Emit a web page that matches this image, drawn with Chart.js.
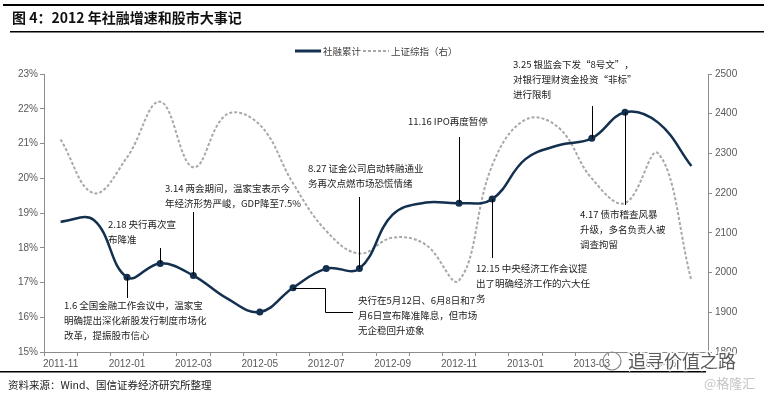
<!DOCTYPE html>
<html>
<head>
<meta charset="utf-8">
<script src="https://cdn.jsdelivr.net/npm/chart.js@4.4.0/dist/chart.umd.min.js"></script>
<style>
    html, body { margin: 0; padding: 0; background: #fff; }
    #wrap { position: relative; width: 764px; height: 396px; }
</style>
</head>
<body>
<div id="wrap"><canvas id="chart" width="764" height="396"></canvas></div>
<script>
// --- data ---
const months = ['2011-11', '2011-12', '2012-01', '2012-02', '2012-03', '2012-04', '2012-05',
    '2012-06', '2012-07', '2012-08', '2012-09', '2012-10', '2012-11', '2012-12',
    '2013-01', '2013-02', '2013-03', '2013-04', '2013-05', '2013-06'];

// 社融累计 growth (%), left axis
const tsfGrowth = [18.75, 18.8, 17.15, 17.55, 17.2, 16.55, 16.15, 16.85, 17.4, 17.4,
    18.95, 19.3, 19.28, 19.4, 20.55, 20.95, 21.15, 21.9, 21.6, 20.35];

// 上证综指, right axis
const shIndex = [2335, 2200, 2290, 2430, 2265, 2398, 2372, 2225, 2105, 2048,
    2088, 2070, 1980, 2270, 2385, 2365, 2237, 2175, 2300, 1980];

// months that carry a marker on the 社融 line
const markedIdx = [2, 3, 4, 6, 7, 8, 9, 12, 13, 16, 17];

const leftTicks = [15, 16, 17, 18, 19, 20, 21, 22, 23];
const rightTicks = [1800, 1900, 2000, 2100, 2200, 2300, 2400, 2500];

// event notes: month index + text lines
const events = [
    { idx: 2, lines: ['1.6 全国金融工作会议中，温家宝', '明确提出深化新股发行制度市场化', '改革，提振股市信心'] },
    { idx: 3, lines: ['2.18 央行再次宣', '布降准'] },
    { idx: 4, lines: ['3.14 两会期间，温家宝表示今', '年经济形势严峻，GDP降至7.5%'] },
    { idx: 7, lines: ['央行在5月12日、6月8日和7', '月6日宣布降准降息，但市场', '无企稳回升迹象'] },
    { idx: 9, lines: ['8.27 证金公司启动转融通业', '务再次点燃市场恐慌情绪'] },
    { idx: 12, lines: ['11.16 IPO再度暂停'] },
    { idx: 13, lines: ['12.15 中央经济工作会议提', '出了明确经济工作的六大任', '务'] },
    { idx: 16, lines: ['3.25 银监会下发“8号文”，', '对银行理财资金投资“非标”', '进行限制'] },
    { idx: 17, lines: ['4.17 债市稽查风暴', '升级，多名负责人被', '调查拘留'] }
];

const NAVY = '#14304f';
const GREY = '#a8a8a8';
const AXIS = '#8c8c8c';
const LATIN = '"Liberation Sans", Arial, sans-serif';
const CJK = '"Noto Sans CJK SC", "Noto Sans", sans-serif';

// where each note sits and how its leader runs (pixels)
const noteLayout = {
    2: { x: 64, y: 305, leader: 'down', end: 298 },
    3: { x: 108, y: 224, leader: 'up', end: 248 },
    4: { x: 165, y: 188, leader: 'up', end: 212 },
    7: { x: 358, y: 300, leader: 'elbow', ex: 325, ey: 312, end: 353 },
    9: { x: 308, y: 168, leader: 'up', end: 197 },
    12: { x: 408, y: 121, leader: 'up', end: 137 },
    13: { x: 476, y: 268, leader: 'down', end: 258 },
    16: { x: 513, y: 64, leader: 'up', end: 106 },
    17: { x: 580, y: 214, leader: 'down', end: 205 }
};

const decor = {
    id: 'decor',
    beforeDraw(chart) {
        const ctx = chart.ctx;
        ctx.save();
        ctx.fillStyle = '#fff';
        ctx.fillRect(0, 0, chart.width, chart.height);
        ctx.restore();
    },
    afterDatasetsDraw(chart) {
        const ctx = chart.ctx;
        const pts = chart.getDatasetMeta(0).data;
        ctx.save();
        ctx.strokeStyle = '#000';
        ctx.lineWidth = 1;
        ctx.fillStyle = '#222';
        ctx.font = '9.5px ' + CJK;
        ctx.textBaseline = 'middle';
        events.forEach(ev => {
            const p = pts[ev.idx];
            const l = noteLayout[ev.idx];
            const px = Math.round(p.x) + 0.5;
            ctx.beginPath();
            if (l.leader === 'elbow') {
                ctx.moveTo(p.x, Math.round(p.y) + 0.5);
                ctx.lineTo(l.ex + 0.5, Math.round(p.y) + 0.5);
                ctx.lineTo(l.ex + 0.5, l.ey + 0.5);
                ctx.lineTo(l.end, l.ey + 0.5);
            } else {
                ctx.moveTo(px, p.y);
                ctx.lineTo(px, l.end);
            }
            ctx.stroke();
            ev.lines.forEach((t, i) => {
                ctx.fillText(t, l.x, l.y + i * 15);
            });
        });
        ctx.restore();
    },
    afterDraw(chart) {
        const ctx = chart.ctx;
        ctx.save();
        // rules
        ctx.fillStyle = '#000';
        ctx.fillRect(3, 4, 761, 2);
        ctx.fillRect(10, 31, 754, 1.5);
        ctx.fillRect(0, 371, 706, 1.5);
        // title
        ctx.fillStyle = '#111';
        ctx.textBaseline = 'middle';
        ctx.font = 'bold 14px ' + CJK;
        ctx.fillText('图 4：2012 年社融增速和股市大事记', 12, 18);
        // legend
        ctx.strokeStyle = NAVY;
        ctx.lineWidth = 3;
        ctx.beginPath();
        ctx.moveTo(295, 51);
        ctx.lineTo(321, 51);
        ctx.stroke();
        ctx.strokeStyle = GREY;
        ctx.lineWidth = 2;
        ctx.setLineDash([3, 2]);
        ctx.beginPath();
        ctx.moveTo(363, 51);
        ctx.lineTo(389, 51);
        ctx.stroke();
        ctx.setLineDash([]);
        ctx.fillStyle = '#404040';
        ctx.font = '9.5px ' + CJK;
        ctx.fillText('社融累计', 323, 51);
        ctx.fillText('上证综指（右）', 391, 51);
        // source
        ctx.fillStyle = '#222';
        ctx.font = '10.5px ' + CJK;
        ctx.fillText('资料来源：Wind、国信证券经济研究所整理', 8, 385);
        // watermark
        ctx.font = '18px ' + CJK;
        ctx.lineWidth = 3;
        ctx.strokeStyle = 'rgba(255,255,255,0.9)';
        ctx.strokeText('追寻价值之路', 628, 361);
        ctx.fillStyle = '#5a5a5a';
        ctx.fillText('追寻价值之路', 628, 361);
        ctx.strokeStyle = '#888';
        ctx.lineWidth = 1.2;
        ctx.beginPath();
        ctx.arc(612, 361, 9, 0, Math.PI * 2);
        ctx.stroke();
        ctx.fillStyle = '#c4c4c4';
        ctx.font = '13px ' + CJK;
        ctx.fillText('@格隆汇', 704, 383);
        ctx.restore();
    }
};

const tickFont = { family: LATIN, size: 10 };

new Chart(document.getElementById('chart'), {
    type: 'line',
    data: {
        labels: months,
        datasets: [{
            label: '社融累计',
            data: tsfGrowth,
            yAxisID: 'y',
            borderColor: NAVY,
            borderWidth: 2.5,
            tension: 0.4,
            pointRadius: months.map((m, i) => markedIdx.includes(i) ? 3.5 : 0),
            pointBackgroundColor: NAVY,
            pointBorderWidth: 0,
            fill: false
        }, {
            label: '上证综指（右）',
            data: shIndex,
            yAxisID: 'y1',
            borderColor: GREY,
            borderWidth: 2,
            borderDash: [3, 2],
            tension: 0.4,
            pointRadius: 0,
            fill: false
        }]
    },
    options: {
        responsive: false,
        animation: false,
        devicePixelRatio: 1,
        layout: { padding: { top: 74, left: 0, right: 0, bottom: 0 } },
        plugins: { legend: { display: false }, tooltip: { enabled: false } },
        scales: {
            x: {
                type: 'category',
                offset: true,
                grid: { drawOnChartArea: false, tickLength: 4, color: AXIS, offset: true },
                border: { color: AXIS },
                ticks: {
                    autoSkip: false, maxRotation: 0, minRotation: 0, padding: 2,
                    color: '#595959', font: tickFont,
                    callback: (v, i) => i % 2 === 0 ? months[i] : ''
                },
                afterFit: s => { s.height = 44; }
            },
            y: {
                position: 'left',
                min: leftTicks[0],
                max: leftTicks[leftTicks.length - 1],
                afterBuildTicks: s => { s.ticks = leftTicks.map(v => ({ value: v })); },
                grid: { drawOnChartArea: false, tickLength: 4, color: AXIS },
                border: { color: AXIS },
                ticks: { padding: 2, color: '#595959', font: tickFont, callback: v => v + '%' },
                afterFit: s => { s.width = 44; }
            },
            y1: {
                position: 'right',
                min: rightTicks[0],
                max: rightTicks[rightTicks.length - 1],
                afterBuildTicks: s => { s.ticks = rightTicks.map(v => ({ value: v })); },
                grid: { drawOnChartArea: false, tickLength: 4, color: AXIS },
                border: { color: AXIS },
                ticks: { padding: 3, color: '#595959', font: tickFont, callback: v => String(v) },
                afterFit: s => { s.width = 56; }
            }
        }
    },
    plugins: [decor]
});
</script>
</body>
</html>
